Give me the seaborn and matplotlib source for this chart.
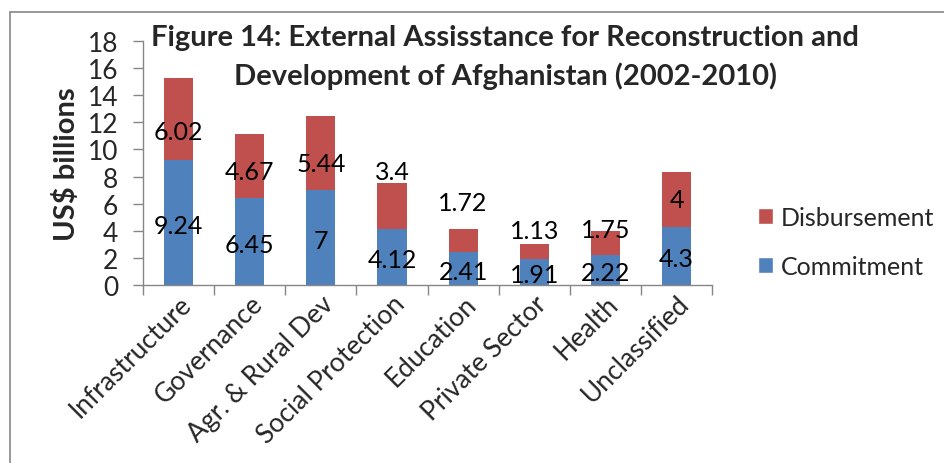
import matplotlib
matplotlib.use("Agg")
import matplotlib.pyplot as plt
import seaborn as sns
import pandas as pd
from matplotlib.patches import Rectangle, Patch

categories = ["Infrastructure", "Governance", "Agr. & Rural Dev", "Social Protection",
              "Education", "Private Sector", "Health", "Unclassified"]
commitment = [9.24, 6.45, 7, 4.12, 2.41, 1.91, 2.22, 4.3]
disbursement = [6.02, 4.67, 5.44, 3.4, 1.72, 1.13, 1.75, 4]
commit_labels = ["9.24", "6.45", "7", "4.12", "2.41", "1.91", "2.22", "4.3"]
disb_labels = ["6.02", "4.67", "5.44", "3.4", "1.72", "1.13", "1.75", "4"]
# vertical placement of disbursement labels, in US$ billions
disb_label_y = [11.3, 8.4, 9.0, 8.4, 6.1, 4.0, 4.06, 6.3]

sns.set_theme(style="white")
plt.rcParams['font.family'] = ['Lato', 'DejaVu Sans']

BLUE = "#4F81BD"
RED = "#C0504D"
GRAY = "#868686"

df = pd.DataFrame({"cat": categories, "commit": commitment, "disb": disbursement})
df["total"] = df["commit"] + df["disb"]

fig = plt.figure(figsize=(9.44, 4.64), dpi=100)
ax = fig.add_axes([0.1515, 0.3836, 0.6028, 0.5259])

sns.barplot(data=df, x="cat", y="total", color=RED, saturation=1, width=0.41, ax=ax,
            edgecolor="none", linewidth=0)
sns.barplot(data=df, x="cat", y="commit", color=BLUE, saturation=1, width=0.41, ax=ax,
            edgecolor="none", linewidth=0)

ax.set_ylim(0, 18)
ax.set_xlim(-0.5, len(categories) - 0.5)
ax.set_yticks(range(0, 19, 2))
ax.tick_params(axis='y', labelsize=19, length=7, width=1, color=GRAY, direction='out', pad=11,
               left=True)
ax.set_xticks([i - 0.5 for i in range(len(categories) + 1)], minor=True)
ax.set_xticks(range(len(categories)))
ax.set_xticklabels(categories, rotation=45, ha='right', rotation_mode='anchor', fontsize=19)
ax.tick_params(axis='x', which='major', length=0, pad=4)
ax.tick_params(axis='x', which='minor', length=7, width=1, color=GRAY, direction='out', bottom=True)
for s in ["top", "right"]:
    ax.spines[s].set_visible(False)
for s in ["left", "bottom"]:
    ax.spines[s].set_color(GRAY)
    ax.spines[s].set_linewidth(1)
ax.set_xlabel("")
ax.set_ylabel("US$ billions", fontsize=21, fontweight='bold', labelpad=5)

for i in range(len(categories)):
    ax.text(i, commitment[i] / 2 - 0.2, commit_labels[i], ha='center', va='center', fontsize=18, color='black')
    ax.text(i, disb_label_y[i], disb_labels[i], ha='center', va='center', fontsize=18, color='black')

fig.text(0.535, 0.918, "Figure 14: External Assisstance for Reconstruction and",
         ha='center', va='center', fontsize=21, fontweight='bold')
fig.text(0.535, 0.836, "Development of Afghanistan (2002-2010)",
         ha='center', va='center', fontsize=21, fontweight='bold')

handles = [Patch(facecolor=RED, label="Disbursement"), Patch(facecolor=BLUE, label="Commitment")]
leg = fig.legend(handles=handles, loc='center left', bbox_to_anchor=(758 / 944, 1 - 243 / 464),
                 frameon=False, borderaxespad=0, borderpad=0,
                 fontsize=18, handlelength=0.6, handleheight=0.6, handletextpad=0.3, labelspacing=1.05)

fig.patches.append(Rectangle((10 / 944, -0.1), 1.2, 1 - 13 / 464 + 0.1, transform=fig.transFigure,
                             fill=False, edgecolor=GRAY, linewidth=1.2))

fig.savefig("out.png", dpi=100)
